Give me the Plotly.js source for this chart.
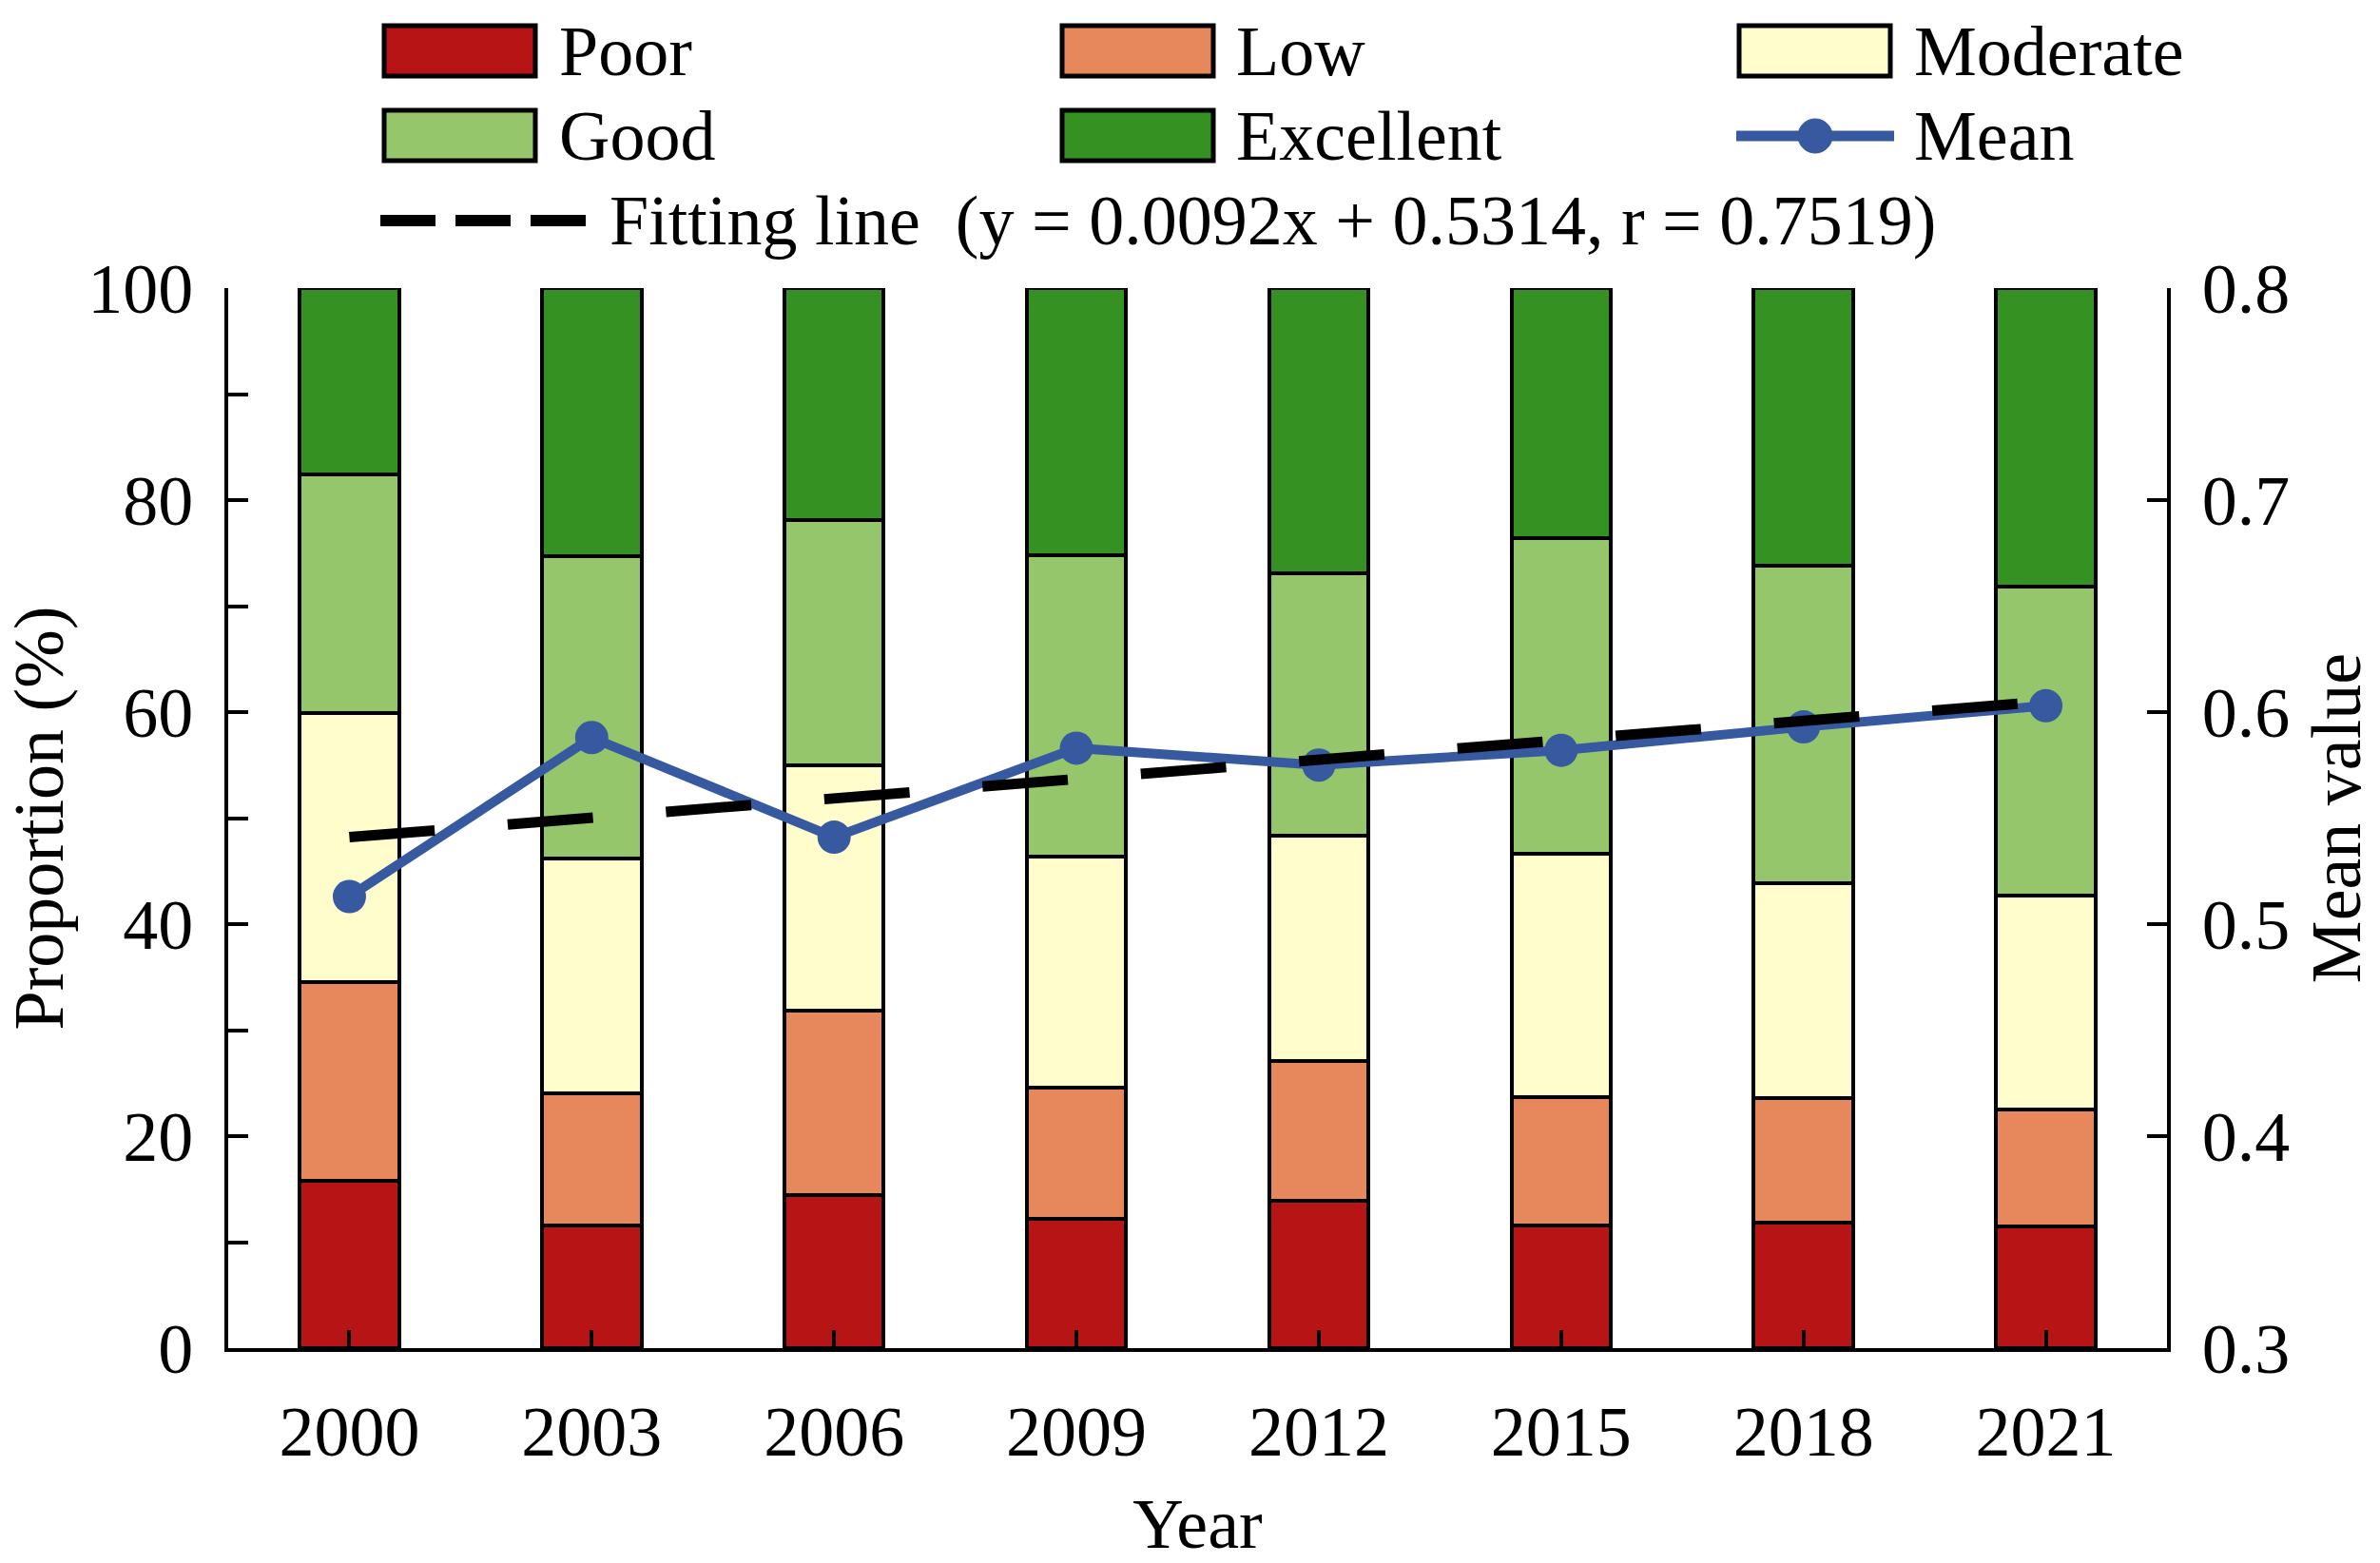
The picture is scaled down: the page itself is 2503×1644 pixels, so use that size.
<!DOCTYPE html>
<html><head><meta charset="utf-8">
<script src="https://cdn.plot.ly/plotly-3.0.1.min.js"></script>
<style>body{margin:0;padding:0;background:#fff}</style>
</head><body><div id="chart" style="width:2503px;height:1644px"></div>
<script>
const years = ['2000','2003','2006','2009','2012','2015','2018','2021'];
const poor      = [15.8, 11.6, 14.4, 12.2, 13.9, 11.6, 11.8, 11.5];
const low       = [18.7, 12.4, 17.4, 12.4, 13.2, 12.1, 11.8, 11.0];
const moderate  = [25.4, 22.2, 23.2, 21.8, 21.2, 22.9, 20.3, 20.2];
const good      = [22.5, 28.5, 23.1, 28.4, 24.8, 29.8, 29.9, 29.1];
const excellent = [17.6, 25.3, 21.9, 25.2, 26.9, 23.6, 26.2, 28.2];
const meanValue = [0.513, 0.588, 0.541, 0.583, 0.575, 0.582, 0.593, 0.603];
const fitValue  = [0.541, 0.550, 0.559, 0.568, 0.577, 0.586, 0.596, 0.605];
const fitLabel = 'Fitting line\u00A0 (y = 0.0092x + 0.5314, r = 0.7519)';

const colors = {poor:'#B71515', low:'#E6875C', moderate:'#FFFDCC', good:'#96C66B', excellent:'#369123', mean:'#36599F'};
const FONT = '"Liberation Serif", "Times New Roman", Times, serif';

function barTrace(name, vals, color){
  return {type:'bar', name:name, x:years, y:vals, marker:{color:color, line:{color:'#000', width:4}}, hoverinfo:'skip'};
}
const traces = [
  barTrace('Poor', poor, colors.poor),
  barTrace('Low', low, colors.low),
  barTrace('Moderate', moderate, colors.moderate),
  barTrace('Good', good, colors.good),
  barTrace('Excellent', excellent, colors.excellent),
  {type:'scatter', mode:'lines+markers', name:'Mean', x:years, y:meanValue, yaxis:'y2',
   line:{color:colors.mean, width:10}, marker:{color:colors.mean, size:35}},
  {type:'scatter', mode:'lines', name:'Fitting line', x:years, y:fitValue, yaxis:'y2',
   line:{color:'#000', width:11, dash:'90px,77px'}}
];

// plot area in pixels
const L = 240, R = 2279, T = 303, B = 1418;
const px = v => (v - L) / (R - L);
const py = v => (B - v) / (B - T);

const shapes = [], annotations = [];
function legendBox(x0, y0, color){
  shapes.push({type:'rect', xref:'paper', yref:'paper', x0:px(x0), x1:px(x0+159), y0:py(y0), y1:py(y0+53),
    fillcolor:color, line:{color:'#000', width:5}});
}
function legendText(x, y, text){
  annotations.push({xref:'paper', yref:'paper', x:px(x), y:py(y), xanchor:'left', yanchor:'middle',
    text:text, showarrow:false, font:{family:FONT, size:74, color:'#000'}});
}
legendBox(404, 27, colors.poor);      legendText(586, 54, 'Poor');
legendBox(1117, 27, colors.low);      legendText(1298, 54, 'Low');
legendBox(1829, 27, colors.moderate); legendText(2011, 54, 'Moderate');
legendBox(404, 116, colors.good);     legendText(586, 143, 'Good');
legendBox(1117, 116, colors.excellent); legendText(1298, 143, 'Excellent');
shapes.push({type:'line', xref:'paper', yref:'paper', x0:px(1826), x1:px(1992), y0:py(143), y1:py(143),
  line:{color:colors.mean, width:11}});
shapes.push({type:'circle', xref:'paper', yref:'paper', x0:px(1891), x1:px(1927), y0:py(161), y1:py(125),
  fillcolor:colors.mean, line:{color:colors.mean, width:1}});
legendText(2011, 143, 'Mean');
shapes.push({type:'line', xref:'paper', yref:'paper', x0:px(400), x1:px(616), y0:py(232), y1:py(232),
  line:{color:'#000', width:12, dash:'58px,21px'}});
legendText(639, 232, fitLabel);

const axisCommon = {showline:true, linecolor:'#000', linewidth:4, ticks:'inside', tickcolor:'#000', tickwidth:4,
  showgrid:false, zeroline:false, fixedrange:true};

const layout = {
  width:2503, height:1644,
  margin:{l:L, r:2503-R, t:T, b:1644-B, pad:0},
  paper_bgcolor:'#fff', plot_bgcolor:'#fff',
  font:{family:FONT, size:74, color:'#000'},
  barmode:'stack', bargap:0.59, showlegend:false,
  xaxis:Object.assign({}, axisCommon, {type:'category', ticklen:19, ticklabelstandoff:20,
    title:{text:'Year', standoff:36, font:{family:FONT, size:74}}}),
  yaxis:Object.assign({}, axisCommon, {range:[0,100], tick0:0, dtick:20, ticklen:21, ticklabelstandoff:18,
    minor:{dtick:10, ticks:'inside', ticklen:21, tickwidth:4, tickcolor:'#000', showgrid:false},
    title:{text:'Proportion (%)', standoff:22, font:{family:FONT, size:74}}}),
  yaxis2:Object.assign({}, axisCommon, {overlaying:'y', side:'right', range:[0.3,0.8], tick0:0.3, dtick:0.1,
    tickformat:'.1f', ticklen:21, ticklabelstandoff:18,
    title:{text:'Mean value', standoff:24, font:{family:FONT, size:74}}}),
  shapes:shapes, annotations:annotations
};
Plotly.newPlot('chart', traces, layout, {staticPlot:true, displayModeBar:false});
</script></body></html>
